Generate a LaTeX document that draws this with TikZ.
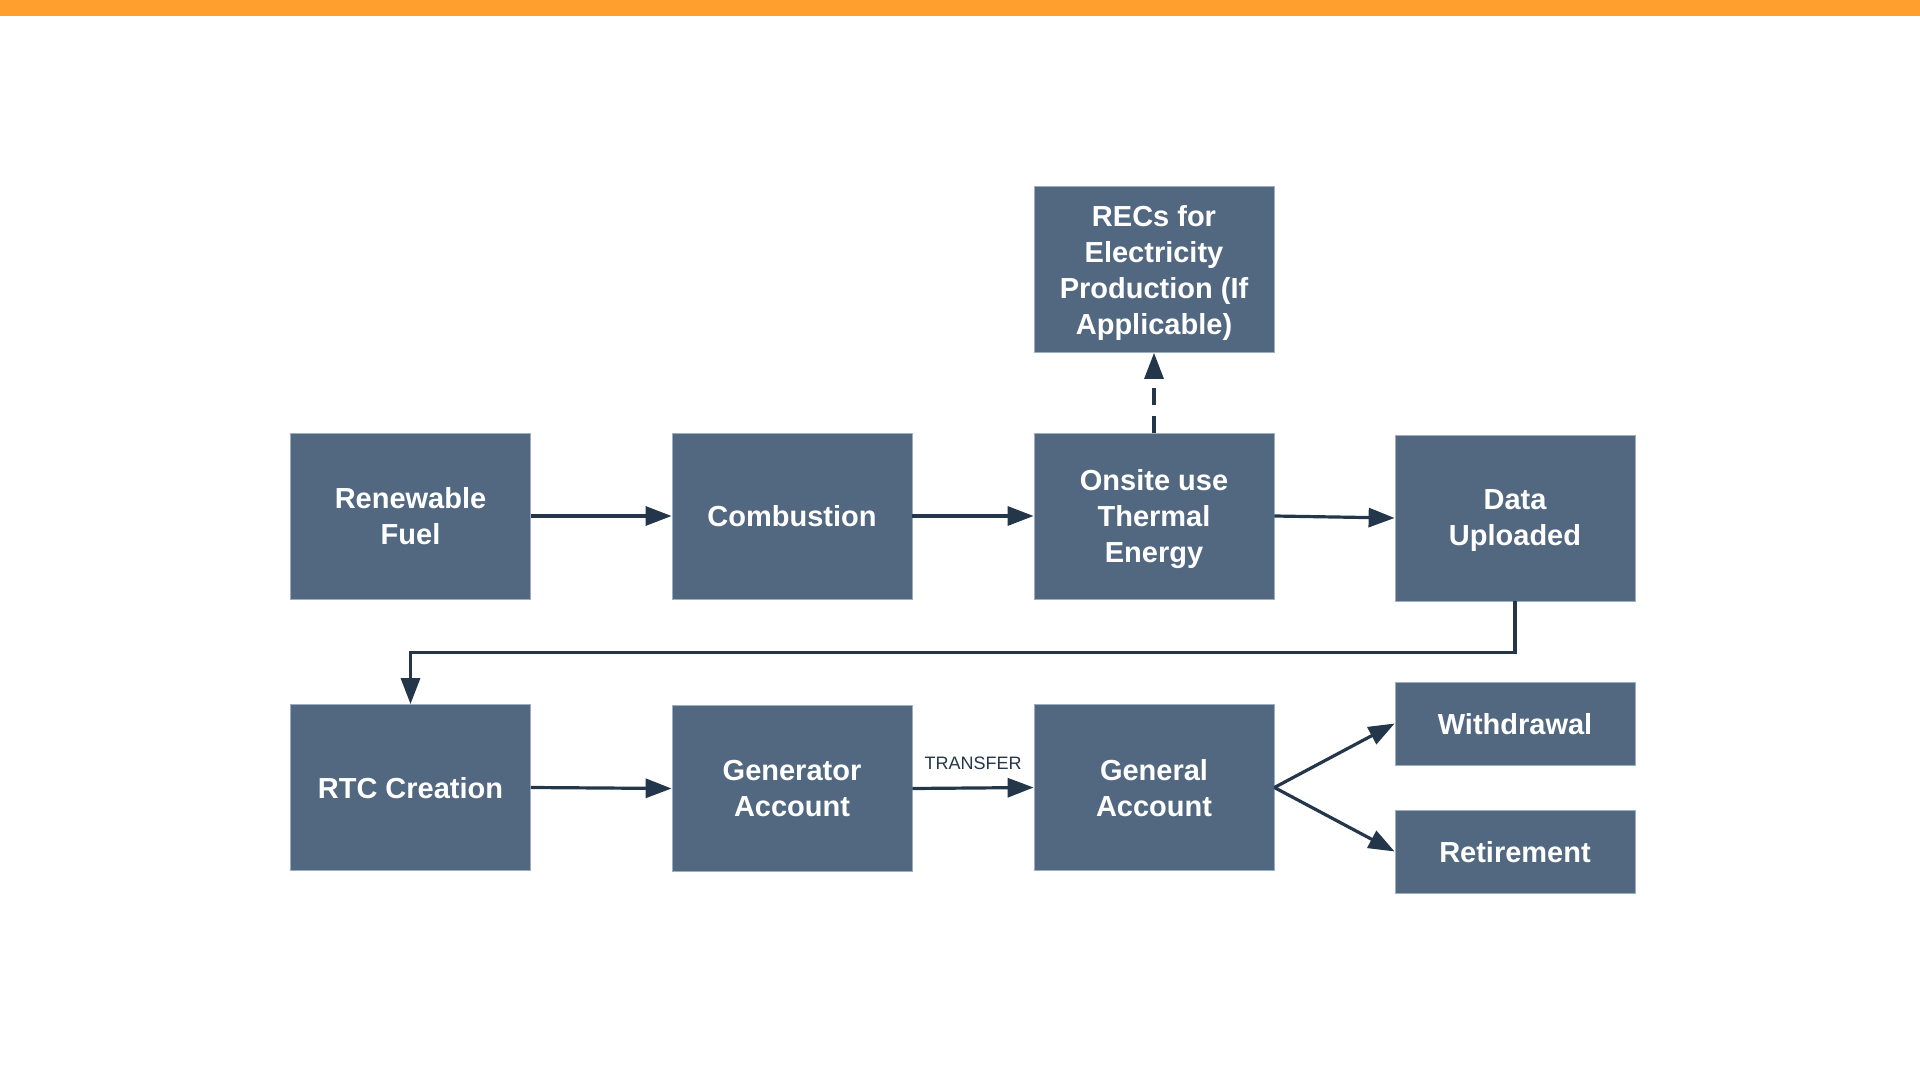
\documentclass[tikz,border=0pt]{standalone}
\usepackage{fontspec}
\setmainfont{Liberation Sans}
\usepackage{tikz}
\usetikzlibrary{arrows.meta}
\definecolor{boxblue}{HTML}{526881}
\definecolor{boxedge}{HTML}{9DAEC0}
\definecolor{linenavy}{HTML}{243649}
\definecolor{topbar}{HTML}{FFA02E}
\begin{document}
\begin{tikzpicture}[x=0.5pt,y=-0.5pt]
	\tikzstyle{every node}=[font=\fontsize{14.5pt}{18pt}\selectfont\bfseries]
	\tikzstyle{box}=[fill=boxblue,draw=boxedge,line width=0.4pt,text=white,align=center,text depth=0pt,minimum width=120pt,minimum height=83pt,inner sep=0pt]
	\tikzstyle{smallbox}=[box,minimum height=41.5pt]
	\tikzstyle{flow}=[draw=linenavy,line width=1.6pt,-{Triangle[length=13pt,width=9.5pt]}]
	\useasboundingbox (0,0) rectangle (1920,1080);
	\fill[topbar] (0,0) rectangle (1920,16);

	% first row
	\node[box] (fuel) at (410.5,516) {Renewable\\Fuel};
	\node[box] (comb) at (792,516) {Combustion};
	\node[box] (onsite) at (1154,516) {Onsite use\\Thermal\\Energy};
	\node[box] (data) at (1515,518) {Data\\Uploaded};
	\node[box] (recs) at (1154,269.5) {RECs for\\Electricity\\Production (If\\Applicable)};

	% second row
	\node[box] (rtc) at (410.5,787.5) {RTC Creation};
	\node[box] (gen) at (792,788.5) {Generator\\Account};
	\node[box] (general) at (1154,787.5) {General\\Account};
	\node[smallbox] (withdraw) at (1515,723.5) {Withdrawal};
	\node[smallbox] (retire) at (1515,851.5) {Retirement};

	\draw[flow] (fuel.east) -- (comb.west);
	\draw[flow] (comb.east) -- (onsite.west);
	\draw[flow] (onsite.east) -- (data.west);
	\draw[flow,dash pattern=on 8.5pt off 5.5pt] (onsite.north) -- (recs.south);
	\draw[flow] (data.south) -- ++(0,51) -| (rtc.north);
	\draw[flow] (rtc.east) -- (gen.west);
	\draw[flow] (gen.east) -- node[above=5pt,font=\fontsize{9pt}{11pt}\selectfont,text=linenavy] (transfer) {TRANSFER} (general.west);
	\draw[flow] (general.east) -- (withdraw.west);
	\draw[flow] (general.east) -- (retire.west);
\end{tikzpicture}
\end{document}
